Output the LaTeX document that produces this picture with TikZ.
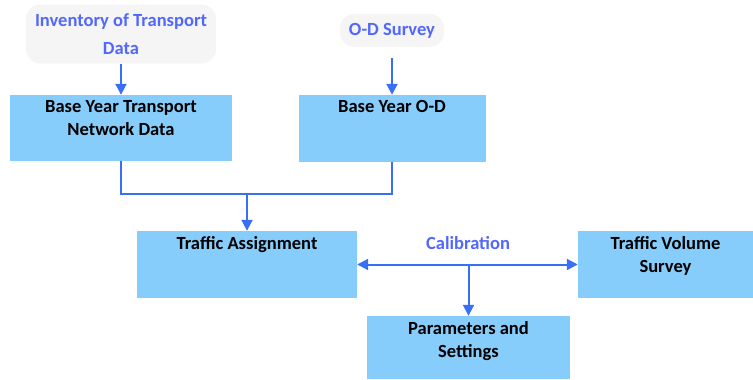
\documentclass[tikz,border=0pt]{standalone}
\usepackage{fontspec}
\setmainfont{Carlito}
\usetikzlibrary{arrows.meta,positioning}
\definecolor{boxfill}{RGB}{135,205,252}
\definecolor{linkblue}{RGB}{56,112,245}
\definecolor{srcblue}{RGB}{82,104,252}
\newcommand{\boxfont}{\bfseries\fontsize{18.6}{24}\selectfont}

\begin{document}
\begin{tikzpicture}[x=1bp, y=-1bp,
  stage/.style={rectangle, fill=boxfill, inner sep=0pt},
  caption/.style={anchor=north, align=center, inner sep=5bp, font=\boxfont, text=black},
  source/.style={align=center, text=srcblue, inner sep=9bp, rounded corners=14bp, fill=black!4,
    font=\bfseries\fontsize{18.6}{28}\selectfont},
  link/.style={draw=linkblue, line width=2bp},
  tip/.style={-{Triangle[length=11bp,width=11bp]}}]
\useasboundingbox (0,0) rectangle (753,379);
% inputs
\node[source] (inv) at (121,34) {Inventory of Transport\\Data};
\node[source, anchor=base] (ods) at (392,35) {O-D Survey};
% model stages
\node[stage, minimum width=221bp, minimum height=66bp, label={[caption]north:{Base Year Transport\\Network Data}}] (netw) at (121,128) {};
\node[stage, minimum width=187bp, minimum height=67bp, label={[caption]north:{Base Year O-D}}] (odbase) at (392,128.5) {};
\node[stage, minimum width=220bp, minimum height=67bp, label={[caption]north:{Traffic Assignment}}] (assign) at (247,264.5) {};
\node[stage, minimum width=175bp, minimum height=67bp, label={[caption]north:{Traffic Volume\\Survey}}] (survey) at (665.5,264.5) {};
\node[stage, minimum width=203bp, minimum height=63bp, label={[caption]north:{Parameters and\\Settings}}] (params) at (468.5,347.5) {};
\node[text=srcblue, font=\boxfont, anchor=base] (calib) at (468,249) {Calibration};
% connectors
\draw[link, tip] (inv.south) -- (netw.north);
\draw[link, tip, shorten <=11bp] (ods.south) -- (odbase.north);
\coordinate (merge) at (assign.north |- 0,194);
\draw[link] (netw.south) |- (merge) -| (odbase.south);
\draw[link, tip] (merge) -- (assign.north);
\draw[link, {Triangle[length=11bp,width=11bp]}-{Triangle[length=11bp,width=11bp]}] (assign.east) -- (survey.west);
\draw[link, tip] (params.north |- assign.east) -- (params.north);
\end{tikzpicture}
\end{document}
